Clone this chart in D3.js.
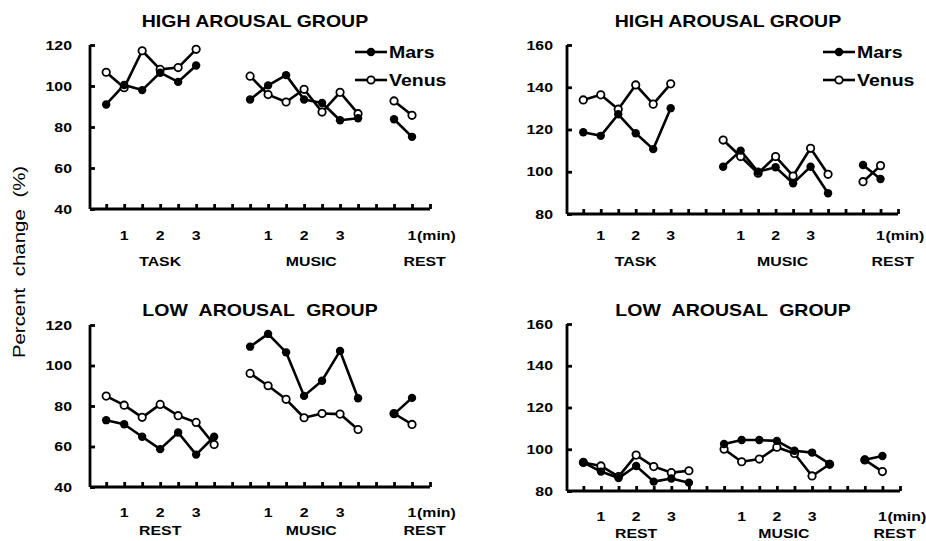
<!DOCTYPE html>
<html>
<head>
<meta charset="utf-8">
<script src="https://cdn.jsdelivr.net/npm/d3@7"></script>
<style>
  body { margin: 0; background: #fff; }
  svg { display: block; }
</style>
</head>
<body>
<script>
// --- data (percent change) ---
// top-left: HIGH AROUSAL GROUP, 40-120
var tlMarsTask   = [91, 100.5, 98, 106.5, 102, 110];
var tlVenusTask  = [106.7, 99.2, 117.2, 108.1, 109, 117.9];
var tlMarsMusic  = [93.4, 100.3, 105.3, 93.4, 91.7, 83.3, 84.3];
var tlVenusMusic = [104.8, 95.8, 92.2, 98.4, 87.3, 96.9, 86.5];
var tlMarsRest   = [83.8, 75.2];
var tlVenusRest  = [92.7, 85.7];

// top-right: HIGH AROUSAL GROUP, 80-160
var trMarsTask   = [118.7, 117, 127.2, 118.2, 110.7, 130.1];
var trVenusTask  = [134, 136.4, 129.6, 141.1, 132, 141.6];
var trMarsMusic  = [102.4, 110, 100, 102.1, 94.5, 102.4, 89.8];
var trVenusMusic = [115, 107.2, 99.3, 107.2, 98, 111.1, 98.8];
var trMarsRest   = [103.2, 96.6];
var trVenusRest  = [95.3, 102.9];

// bottom-left: LOW AROUSAL GROUP, 40-120
var blMarsRest1  = [73, 71, 64.8, 58.7, 66.9, 56, 64.8];
var blVenusRest1 = [84.9, 80.4, 74.4, 80.8, 75.2, 71.9, 61];
var blMarsMusic  = [109.3, 115.6, 106.5, 85, 92.5, 107.2, 83.8];
var blVenusMusic = [96.1, 90, 83.3, 74.2, 76.3, 76, 68.4];
var blMarsRest2  = [76, 84];
var blVenusRest2 = [76.3, 70.9];

// bottom-right: LOW AROUSAL GROUP, 80-160
var brMarsRest1  = [93.7, 89.3, 86.2, 92, 84.5, 86, 84];
var brVenusRest1 = [93.7, 92, 86.9, 97.2, 91.7, 88.8, 89.7];
var brMarsMusic  = [102.5, 104.4, 104.4, 104, 99.3, 98.4, 93];
var brVenusMusic = [100, 94, 95.3, 101, 98, 87.2, 92.8];
var brMarsRest2  = [95, 96.8];
var brVenusRest2 = [94.9, 89.3];

var segmentStarts = [0, 8, 16];   // x index where each phase begins
var topCategories = ["TASK", "MUSIC", "REST"];
var bottomCategories = ["REST", "MUSIC", "REST"];
var categoryAt = [3, 11.4, 17.7];
var minuteLabels = ["1", "2", "3", "1", "2", "3", "1"];
var minuteAt = [1, 3, 5, 9, 11, 13, 17];
var ticksLow = [40, 60, 80, 100, 120];
var ticksHigh = [80, 100, 120, 140, 160];
var seriesNames = ["Mars", "Venus"];

var FONT = "'Liberation Sans', Arial, Helvetica, sans-serif";
var SX = 1.22; // the figure's lettering is wide

var svg = d3.select("body").append("svg")
  .attr("width", 926)
  .attr("height", 541);

function label(g, x, y, str, size, anchor, weight) {
  return g.append("text")
    .attr("transform", "translate(" + x + "," + y + ") scale(" + SX + ",1)")
    .attr("text-anchor", anchor)
    .attr("font-family", FONT)
    .attr("font-size", size)
    .attr("font-weight", weight || "bold")
    .attr("fill", "#000")
    .text(str);
}

function drawPanel(p) {
  var g = svg.append("g");
  var x = d3.scaleLinear().domain(p.xDomain).range(p.xRange);
  var y = d3.scaleLinear().domain(p.yDomain).range(p.yRange);

  // x axis: small upward bumps
  var xAxis = g.append("g")
    .attr("transform", "translate(0," + p.yRange[0] + ")")
    .call(d3.axisBottom(x).tickValues(d3.range(0, 19)).tickSize(-5).tickFormat(""));
  // y axis: short inward ticks
  var yAxis = g.append("g")
    .attr("transform", "translate(" + p.xRange[0] + ",0)")
    .call(d3.axisLeft(y).tickValues(p.yTicks).tickSize(-5).tickFormat(""));
  [xAxis, yAxis].forEach(function(a) {
    a.select(".domain").attr("stroke", "#000").attr("stroke-width", 2.8);
    a.selectAll(".tick line").attr("stroke", "#000").attr("stroke-width", 2.8);
  });
  yAxis.select(".domain").attr("d", "M0," + p.yRange[0] + "V" + p.yRange[1]);
  xAxis.select(".domain").attr("d", "M" + p.xRange[0] + ",0H" + p.xRange[1]);

  p.yTicks.forEach(function(v) {
    label(g, p.xRange[0] - p.labelGap, y(v) + 4.5, v, 13, "end");
  });
  minuteLabels.forEach(function(s, i) {
    label(g, x(minuteAt[i]), p.numY, s, 13, "middle");
  });
  label(g, x(17) + 5, p.numY, "(min)", 13, "start");
  p.categories.forEach(function(s, i) {
    label(g, x(categoryAt[i]), p.catY, s, 13, "middle");
  });

  var t = label(g, p.titleX, p.titleY, p.title, 16, "middle");
  if (p.wordSpacing) t.attr("word-spacing", p.wordSpacing);

  var line = d3.line()
    .x(function(d) { return x(d.i); })
    .y(function(d) { return y(d.v); });

  function segs(arrays) {
    return arrays.map(function(arr, k) {
      return arr.map(function(v, j) { return { i: segmentStarts[k] + j, v: v }; });
    });
  }
  var mars = segs(p.mars), venus = segs(p.venus);

  [venus, mars].forEach(function(s) {
    s.forEach(function(seg) {
      g.append("path").datum(seg)
        .attr("d", line)
        .attr("fill", "none")
        .attr("stroke", "#000")
        .attr("stroke-width", 2.6)
        .attr("stroke-linejoin", "round");
    });
  });
  g.selectAll(".venus").data(d3.merge(venus)).enter().append("circle")
    .attr("class", "venus")
    .attr("cx", function(d) { return x(d.i); })
    .attr("cy", function(d) { return y(d.v); })
    .attr("r", 3.7)
    .attr("fill", "#fff")
    .attr("stroke", "#000")
    .attr("stroke-width", 1.8);
  g.selectAll(".mars").data(d3.merge(mars)).enter().append("circle")
    .attr("class", "mars")
    .attr("cx", function(d) { return x(d.i); })
    .attr("cy", function(d) { return y(d.v); })
    .attr("r", 4.2)
    .attr("fill", "#000");

  if (p.legend) {
    var L = p.legend;
    seriesNames.forEach(function(name, k) {
      var ly = L.y + k * 28;
      g.append("line")
        .attr("x1", L.x).attr("x2", L.x + 32)
        .attr("y1", ly).attr("y2", ly)
        .attr("stroke", "#000").attr("stroke-width", 2.6);
      g.append("circle")
        .attr("cx", L.x + 16).attr("cy", ly)
        .attr("r", k === 0 ? 4.2 : 3.7)
        .attr("fill", k === 0 ? "#000" : "#fff")
        .attr("stroke", "#000")
        .attr("stroke-width", k === 0 ? 0 : 1.8);
      label(g, L.x + 34, ly + 6, name, 16, "start");
    });
  }
}

var leftX = { xDomain: [-0.9, 18], xRange: [90, 430], labelGap: 18 };
var rightX = { xDomain: [-0.93, 18], xRange: [567, 898], labelGap: 14 };

drawPanel(Object.assign({}, leftX, {
  yDomain: [40, 120], yRange: [209, 45], yTicks: ticksLow,
  title: "HIGH AROUSAL GROUP", titleX: 255, titleY: 27,
  numY: 240, catY: 266, categories: topCategories,
  mars: [tlMarsTask, tlMarsMusic, tlMarsRest],
  venus: [tlVenusTask, tlVenusMusic, tlVenusRest],
  legend: { x: 355, y: 52 }
}));
drawPanel(Object.assign({}, rightX, {
  yDomain: [80, 160], yRange: [214, 45], yTicks: ticksHigh,
  title: "HIGH AROUSAL GROUP", titleX: 728, titleY: 27,
  numY: 240, catY: 266, categories: topCategories,
  mars: [trMarsTask, trMarsMusic, trMarsRest],
  venus: [trVenusTask, trVenusMusic, trVenusRest],
  legend: { x: 823, y: 52 }
}));
drawPanel(Object.assign({}, leftX, {
  yDomain: [40, 120], yRange: [487, 325], yTicks: ticksLow,
  title: "LOW AROUSAL GROUP", titleX: 260, titleY: 316, wordSpacing: 5,
  numY: 517, catY: 535, categories: bottomCategories,
  mars: [blMarsRest1, blMarsMusic, blMarsRest2],
  venus: [blVenusRest1, blVenusMusic, blVenusRest2]
}));
drawPanel(Object.assign({}, rightX, {
  xRange: [567, 900],
  yDomain: [80, 160], yRange: [491, 324], yTicks: ticksHigh,
  title: "LOW AROUSAL GROUP", titleX: 733, titleY: 316, wordSpacing: 5,
  numY: 521, catY: 538, categories: bottomCategories,
  mars: [brMarsRest1, brMarsMusic, brMarsRest2],
  venus: [brVenusRest1, brVenusMusic, brVenusRest2]
}));

// shared y-axis title
svg.append("text")
  .attr("transform", "translate(25,262) rotate(-90) scale(1.2,1)")
  .attr("text-anchor", "middle")
  .attr("font-family", FONT)
  .attr("font-size", 17)
  .attr("word-spacing", 5)
  .attr("fill", "#000")
  .text("Percent change (%)");
</script>
</body>
</html>
